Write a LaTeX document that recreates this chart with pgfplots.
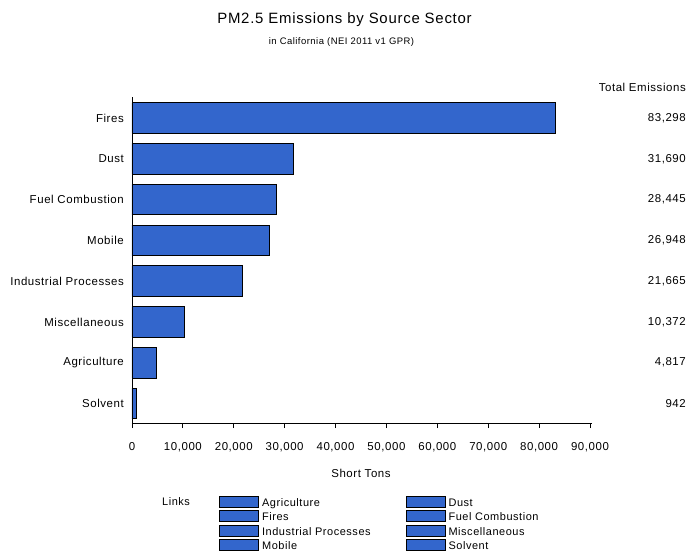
\documentclass[border=0pt]{standalone}
\usepackage{fontspec}
\setmainfont{Liberation Sans}[LetterSpace=5]
\usepackage{pgfplots}
\pgfplotsset{compat=1.18}
\usepackage{pgfplotstable}

\definecolor{barblue}{HTML}{3366CC}

\pgfplotstableread{
y  val    lab
7  83298  83,298
6  31690  31,690
5  28445  28,445
4  26948  26,948
3  21665  21,665
2  10372  10,372
1  4817   4,817
0  942    942
}\emissions

\newcommand{\smallfont}{\fontsize{11.5}{13}\selectfont}
\newcommand{\legfont}{\fontsize{11}{13}\selectfont}

\begin{document}
\begin{tikzpicture}
\path[use as bounding box] (-132bp,-130bp) rectangle (557bp,423bp);
\begin{axis}[
  width=458bp, height=326bp, scale only axis,
  clip=false,
  xmin=0, xmax=90000,
  ymin=-0.478, ymax=7.515,
  axis lines*=left,
  axis line style={line width=0.9bp},
  x axis line style={shorten >=-2bp},
  xtick={0,10000,...,90000},
  scaled x ticks=false,
  /pgf/number format/.cd, 1000 sep={,}, assume math mode=true,
  /pgfplots/.cd,
  tick align=outside,
  major tick length=5bp,
  xtick style={line width=0.9bp, black},
  ytick={0,...,7},
  yticklabels={Solvent,Agriculture,Miscellaneous,Industrial Processes,Mobile,Fuel Combustion,Dust,Fires},
  ytick style={draw=none},
  ticklabel style={font=\smallfont},
  xticklabel style={anchor=center, inner sep=0pt, yshift=-19bp},
  yticklabel style={anchor=east, inner sep=0pt, xshift=-3bp},
  xlabel={Short Tons},
  xlabel style={font=\smallfont, at={(axis description cs:0.5,-0.156)}, anchor=center},
  legend columns=2,
  legend style={draw=none, fill=none, inner sep=0pt, anchor=north west,
    at={(axis description cs:0.19,-0.222)},
    font=\legfont,
    nodes={inner sep=0pt},
    row sep=2.4bp,
    /tikz/every odd column/.append style={column sep=3bp},
    /tikz/every even column/.append style={column sep=35bp}},
  legend cell align=left,
]
\addplot[xbar, bar width=0.75, fill=barblue, draw=black, line width=0.9bp, forget plot]
  table[x=val, y=y] {\emissions};
\addplot[only marks, mark=*, mark size=0pt, mark options={draw=none, fill=none},
  point meta=explicit symbolic, nodes near coords,
  nodes near coords style={anchor=east, inner sep=0pt, font=\smallfont},
  forget plot]
  table[x expr=108865, y=y, meta=lab] {\emissions};
\pgfplotsset{legend image code/.code={\draw[fill=barblue, draw=black, line width=0.9bp] (0bp,-4bp) rectangle (39bp,7bp);}}
\addlegendimage{}\addlegendentry{Agriculture}
\addlegendimage{}\addlegendentry{Dust}
\addlegendimage{}\addlegendentry{Fires}
\addlegendimage{}\addlegendentry{Fuel Combustion}
\addlegendimage{}\addlegendentry{Industrial Processes}
\addlegendimage{}\addlegendentry{Miscellaneous}
\addlegendimage{}\addlegendentry{Mobile}
\addlegendimage{}\addlegendentry{Solvent}
\node[anchor=east, font=\smallfont, inner sep=0pt] at (axis cs:108865,7.75) {Total Emissions};
\end{axis}
\node[font=\fontsize{15}{18}\selectfont] at (212.5bp,403bp) {PM2.5 Emissions by Source Sector};
\node[font=\fontsize{9.5}{11}\selectfont] at (209.5bp,381bp) {in California (NEI 2011 v1 GPR)};
\node[anchor=west, font=\legfont, inner sep=0pt] at (30bp,-79bp) {Links};
\end{tikzpicture}
\end{document}
